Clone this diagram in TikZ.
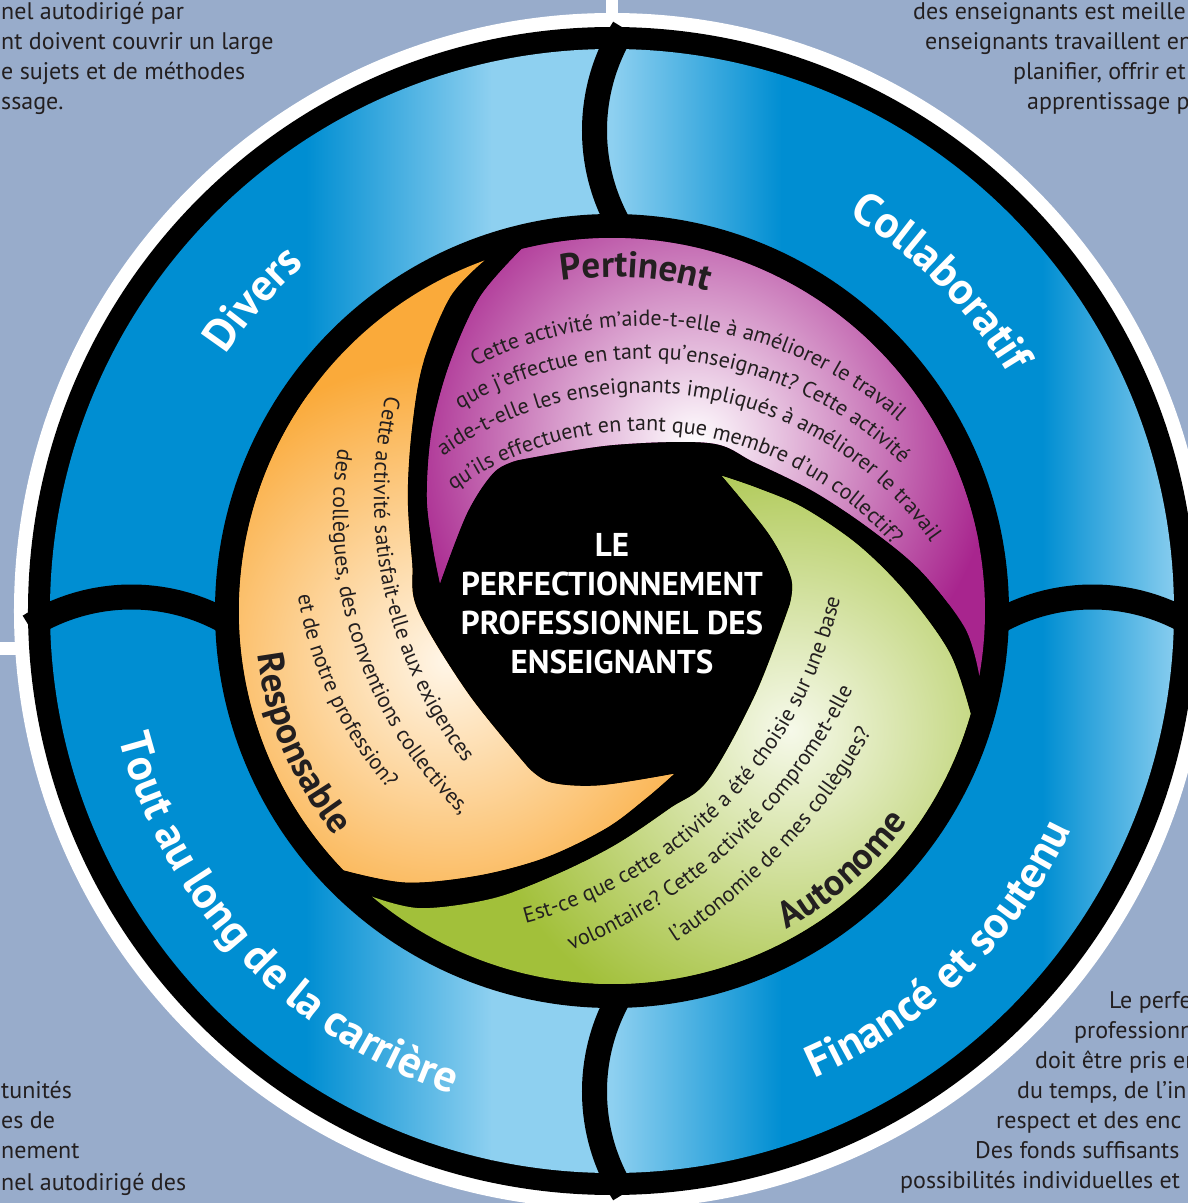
\documentclass[tikz,border=0pt]{standalone}
\usepackage{fontspec}
\setmainfont{PT Sans}
\usetikzlibrary{decorations.text}

\definecolor{bgblue}{RGB}{152,172,203}
\definecolor{ringdark}{RGB}{0,142,210}
\definecolor{ringlight}{RGB}{142,208,240}
\definecolor{mag}{RGB}{168,37,142}
\definecolor{grn}{RGB}{162,192,58}
\definecolor{grnlight}{RGB}{246,249,234}
\definecolor{org}{RGB}{250,170,58}
\definecolor{orglight}{RGB}{255,246,232}
\definecolor{qdark}{RGB}{35,31,32}

\newcommand{\qfont}{\fontsize{22}{26}\selectfont}
\newcommand{\labelfont}{\bfseries\fontsize{37}{44}\selectfont}
\newcommand{\ringfont}{\bfseries\fontsize{45}{54}\selectfont}

\newcommand{\petalpath}{(-172,28) -- plot[smooth, tension=0.55] coordinates {(-172,28) (-179,64) (-185,114) (-180,181) (-162,248) (-132,314) (-90.24,361.9)}
  arc[start angle=104, end angle=-10, radius=373pt]
  -- plot[smooth, tension=0.55] coordinates {(367.33,-64.77) (353,-17) (309,40) (257,83) (201,120) (142,149) (98,168) (0,166) (-94,151)}
  -- plot[smooth, tension=0.55] coordinates {(-94,151) (-118,139) (-145,98) (-172,28)} -- cycle}

\tikzset{
  divider/.style={line width=25pt, black},
  stub/.style={line width=12pt, white},
  corner/.style={anchor=base west, inner sep=0pt, text=qdark, font=\fontsize{24}{28}\selectfont},
  centretext/.style={align=center, text=white, inner sep=0pt, font=\bfseries\fontsize{33}{39}\selectfont},
  qline/.style={decorate, decoration={text along path, text align=center, text color=qdark, text={|\qfont|#1}}},
  petallabel/.style={decorate, decoration={text along path, text align=center, text color=qdark, text={|\labelfont|#1}}},
  ringlabel/.style={decorate, decoration={text along path, text align=center, text color=white, text={|\ringfont|#1}}},
}

\begin{document}
\begin{tikzpicture}[x=1pt, y=1pt]
  \useasboundingbox (-612,-592) rectangle (576,611);
  \clip (-612,-592) rectangle (576,611);
  \fill[bgblue] (-612,-592) rectangle (576,611);

  \coordinate (topstub) at (0,611);
  \coordinate (topring) at (0,590);
  \coordinate (leftstub) at (-612,-37.5);
  \coordinate (leftring) at (-590,-37.5);
  \draw[stub] (topstub) -- (topring);
  \draw[stub, line width=13pt] (leftstub) -- (leftring);

  \fill[white] (0,0) circle (598pt);
  \fill[black] (0,0) circle (584pt);

  \begin{scope}
    \clip (0,0) circle (562pt);
    \fill[ringdark] (-570,-570) rectangle (-305,570);
    \shade[left color=ringdark, right color=ringlight] (-306,-570) rectangle (-120,570);
    \fill[ringlight] (-121,-570) rectangle (1,570);
    \shade[left color=ringlight, right color=ringdark] (0,-570) rectangle (170,570);
    \fill[ringdark] (169,-570) rectangle (431,570);
    \shade[left color=ringdark, right color=ringlight] (430,-570) rectangle (570,570);
  \end{scope}

  \draw[divider] (175.5,480.5) ++(148:193pt) arc[start angle=148, end angle=212, radius=193pt];
  \draw[divider] (175.5,-480.5) ++(148:193pt) arc[start angle=148, end angle=212, radius=193pt];
  \draw[divider] (480.5,-179) ++(58:193pt) arc[start angle=58, end angle=122, radius=193pt];
  \draw[divider] (-480.5,-179) ++(58:193pt) arc[start angle=58, end angle=122, radius=193pt];

  \fill[black] (0,0) circle (397pt);

  % Pertinent
  \begin{scope}
    \clip \petalpath;
    \fill[mag] (-400,-400) rectangle (400,400);
    \shade[inner color=white, outer color=mag] (83,168) circle (300pt);
  \end{scope}
  % Autonome
  \begin{scope}[rotate=-120]
    \clip \petalpath;
    \begin{scope}[rotate=120]
      \fill[grn] (-400,-400) rectangle (400,400);
      \shade[inner color=grnlight, outer color=grn] (178,-119) circle (320pt);
    \end{scope}
  \end{scope}
  % Responsable
  \begin{scope}[rotate=120]
    \clip \petalpath;
    \begin{scope}[rotate=-120]
      \fill[org] (-400,-400) rectangle (400,400);
      \shade[inner color=orglight, outer color=org] (-165,-49) circle (300pt);
    \end{scope}
  \end{scope}

  \node[centretext] (centre) at (0,7.5) {LE\\PERFECTIONNEMENT\\PROFESSIONNEL DES\\ENSEIGNANTS};

  \path[ringlabel={Divers}] (0,0) ++(179:463pt) arc[start angle=179, end angle=99, radius=463pt];
  \path[ringlabel={Collaboratif}] (0,0) ++(85:461pt) arc[start angle=85, end angle=5, radius=461pt];
  \path[ringlabel={Financé et soutenu}] (0,0) ++(-106:509pt) arc[start angle=-106, end angle=14, radius=509pt];
  \path[ringlabel={Tout au long de la carrière}] (0,0) ++(153:509pt) arc[start angle=153, end angle=293, radius=509pt];

  \path[petallabel={Pertinent}] (0,0) ++(136:334pt) arc[start angle=136, end angle=36, radius=334pt];
  \path[petallabel={Responsable}] (0,0) ++(153:357pt) arc[start angle=153, end angle=253, radius=357pt];
  \path[petallabel={Autonome}] (0,0) ++(-98.4:363pt) arc[start angle=-98.4, end angle=1.6, radius=363pt];

  \path[qline={Cette activité m’aide-t-elle à améliorer le travail}] (34,-96) ++(152.6:381pt) arc[start angle=152.6, end angle=12.6, radius=381pt];
  \path[qline={que j’effectue en tant qu’enseignant? Cette activité}] (33,-114) ++(152.9:366pt) arc[start angle=152.9, end angle=12.9, radius=366pt];
  \path[qline={aide-t-elle les enseignants impliqués à améliorer le travail}] (32,-132) ++(150:350pt) arc[start angle=150, end angle=10, radius=350pt];
  \path[qline={qu’ils effectuent en tant que membre d’un collectif?}] (31,-150) ++(152.9:330pt) arc[start angle=152.9, end angle=12.9, radius=330pt];

  \path[qline={Cette activité satisfait-elle aux exigences}] (200,114) ++(132:438pt) arc[start angle=132, end angle=252, radius=438pt];
  \path[qline={des collègues, des conventions collectives,}] (137,96) ++(138.5:416pt) arc[start angle=138.5, end angle=258.5, radius=416pt];
  \path[qline={et de notre profession?}] (70,77) ++(145:389pt) arc[start angle=145, end angle=265, radius=389pt];

  \path[qline={Est-ce que cette activité a été choisie sur une base}] (-196,109) ++(-104.1:435pt) arc[start angle=-104.1, end angle=15.9, radius=435pt];
  \path[qline={volontaire? Cette activité compromet-elle}] (-246,164) ++(-107.2:544pt) arc[start angle=-107.2, end angle=12.8, radius=544pt];
  \path[qline={l’autonomie de mes collègues?}] (-256,164) ++(-103.1:589pt) arc[start angle=-103.1, end angle=16.9, radius=589pt];

  \node[corner] (tl1) at (-611,591) {nel autodirigé par};
  \node[corner] (tl2) at (-611,561) {nt doivent couvrir un large};
  \node[corner] (tl3) at (-611,531) {e sujets et de méthodes};
  \node[corner] (tl4) at (-611,501) {ssage.};

  \node[corner] (tr1) at (301,591) {des enseignants est meille};
  \node[corner] (tr2) at (313,561) {enseignants travaillent en};
  \node[corner] (tr3) at (401,531) {planifier, offrir et};
  \node[corner] (tr4) at (415,501) {apprentissage p};

  \node[corner] (bl1) at (-611,-487) {tunités};
  \node[corner] (bl2) at (-611,-517) {es de};
  \node[corner] (bl3) at (-611,-547) {nement};
  \node[corner] (bl4) at (-611,-579) {nel autodirigé des};

  \node[corner] (br1) at (497,-397) {Le perfe};
  \node[corner] (br2) at (462,-427) {professionn};
  \node[corner] (br3) at (423,-457) {doit être pris en};
  \node[corner] (br4) at (405,-487) {du temps, de l’in};
  \node[corner] (br5) at (384,-517) {respect et des enc};
  \node[corner] (br6) at (363,-547) {Des fonds suffisants};
  \node[corner] (br7) at (288,-577) {possibilités individuelles et};
\end{tikzpicture}
\end{document}
